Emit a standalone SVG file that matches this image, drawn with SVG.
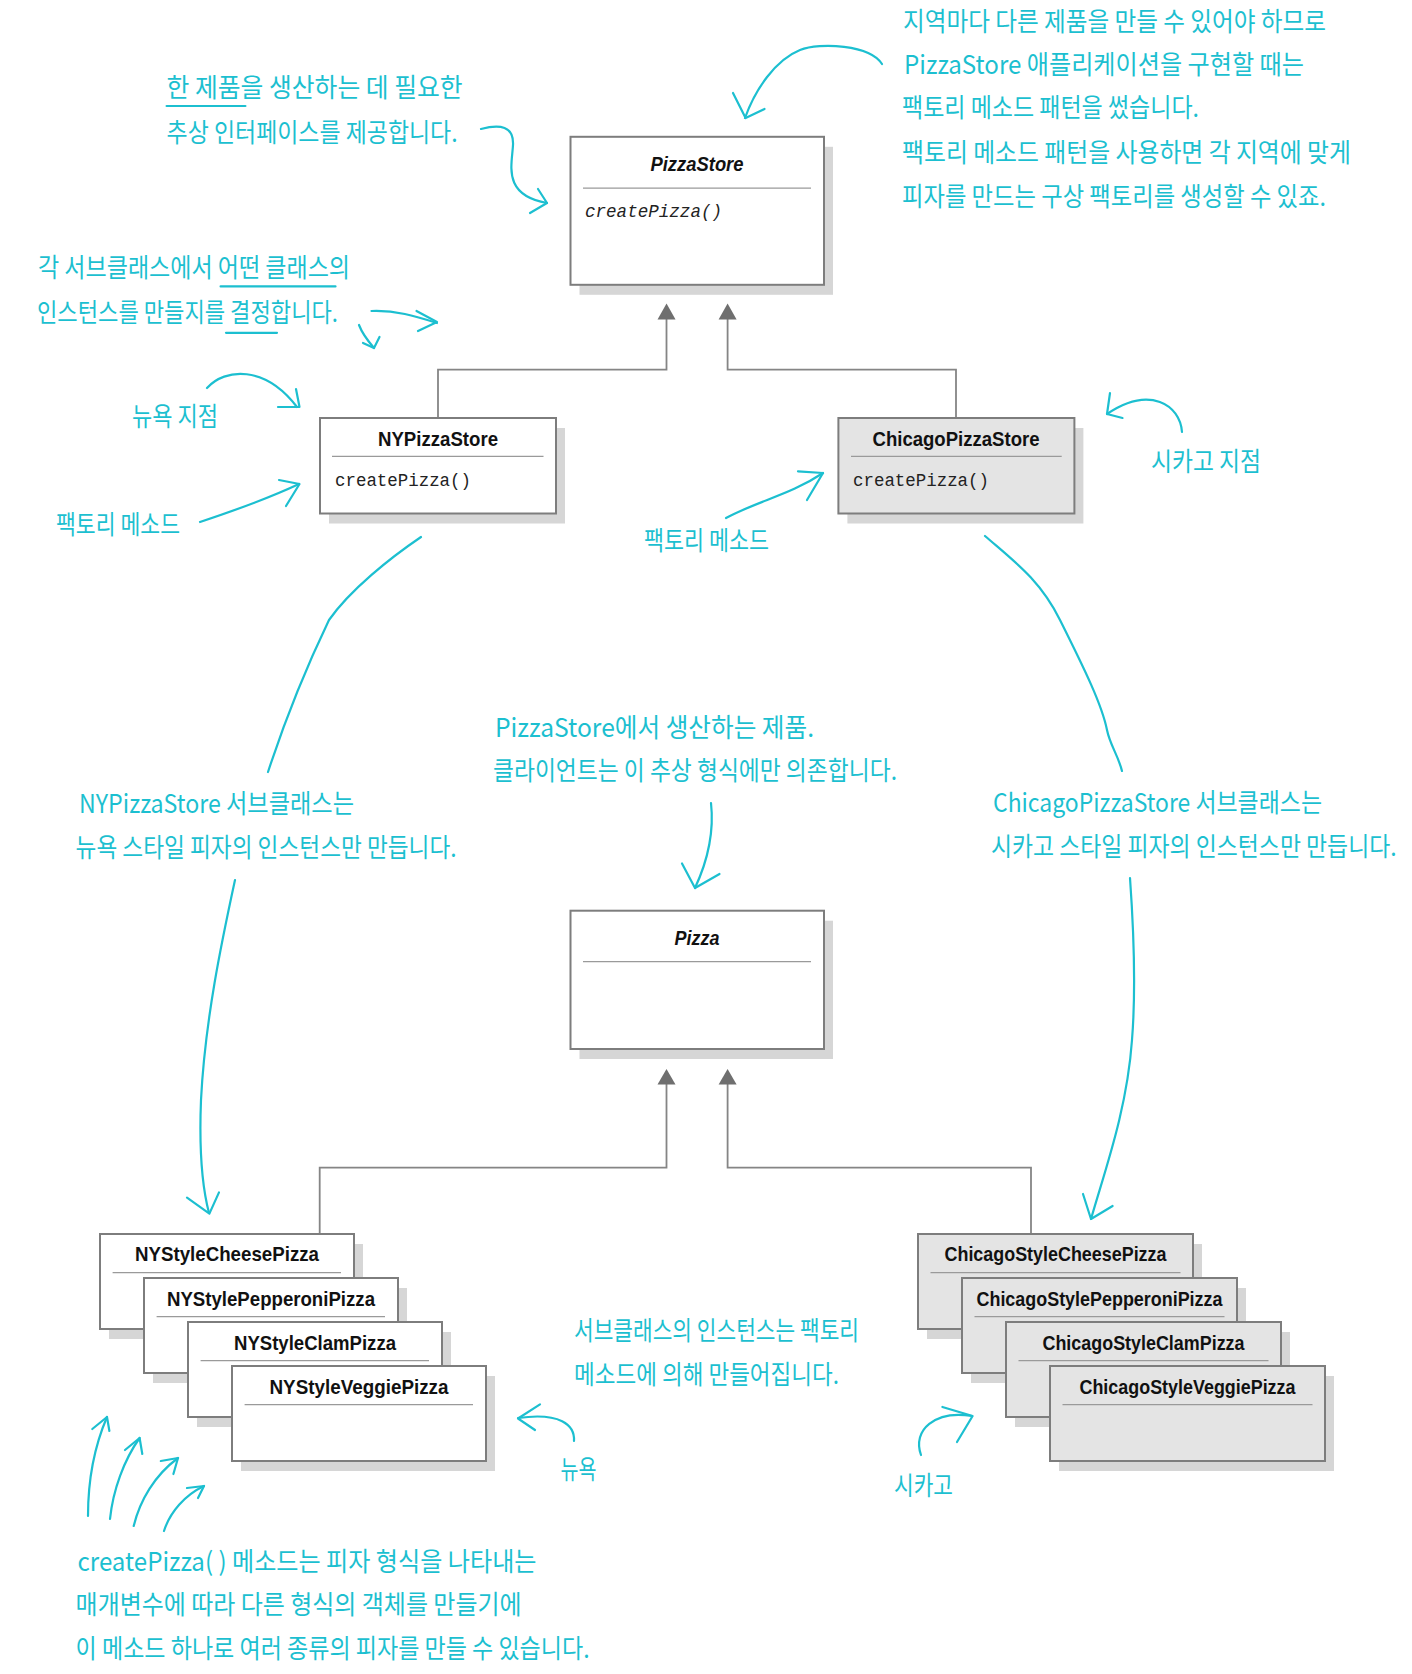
<svg xmlns="http://www.w3.org/2000/svg" width="1412" height="1674" viewBox="0 0 1412 1674">
<defs>
<style>
.note{font-family:"Noto Sans CJK KR","Noto Sans",sans-serif;font-size:26px;fill:#1cbfd0;}
.hand{fill:none;stroke:#1cbfd0;stroke-width:2.2;stroke-linecap:round;stroke-linejoin:round;}
.box{fill:#ffffff;stroke:#7d7d7d;stroke-width:2;}
.gbox{fill:#e4e4e4;stroke:#7d7d7d;stroke-width:2;}
.shadow{fill:#d6d6d6;}
.div{stroke:#9a9a9a;stroke-width:1.2;}
.title{font-family:"Liberation Sans",Arial,sans-serif;font-weight:bold;font-size:21px;fill:#111;text-anchor:middle;}
.ititle{font-family:"Liberation Sans",Arial,sans-serif;font-weight:bold;font-style:italic;font-size:21px;fill:#111;text-anchor:middle;}
.meth{font-family:"Liberation Mono","DejaVu Sans Mono",monospace;font-size:17.5px;fill:#222;}
.imeth{font-family:"Liberation Mono","DejaVu Sans Mono",monospace;font-style:italic;font-size:17.5px;fill:#222;}
.conn{fill:none;stroke:#858585;stroke-width:1.8;}
.tri{fill:#6f6f6f;}
</style>
</defs>
<rect width="1412" height="1674" fill="#ffffff"/>

<!-- connectors (UML inheritance) -->
<g id="connectors">
<polyline class="conn" points="438,418 438,369.6 666.5,369.6 666.5,318"/>
<polygon class="tri" points="666.5,303.5 657.5,319.5 675.5,319.5"/>
<polyline class="conn" points="956,418 956,369.6 727.6,369.6 727.6,318"/>
<polygon class="tri" points="727.6,303.5 718.6,319.5 736.6,319.5"/>
<polyline class="conn" points="319.7,1234 319.7,1167.7 666.5,1167.7 666.5,1083"/>
<polygon class="tri" points="666.5,1069 657.5,1084.5 675.5,1084.5"/>
<polyline class="conn" points="1031,1234 1031,1167.7 727.6,1167.7 727.6,1083"/>
<polygon class="tri" points="727.6,1069 718.6,1084.5 736.6,1084.5"/>
</g>

<!-- PizzaStore -->
<g id="PizzaStore">
<rect class="shadow" x="579.5" y="146.8" width="253.5" height="148"/>
<rect class="box" x="570.5" y="136.8" width="253.5" height="148"/>
<text class="ititle" x="697" y="171" textLength="93" lengthAdjust="spacingAndGlyphs">PizzaStore</text>
<line class="div" x1="583" y1="188.2" x2="811" y2="188.2"/>
<text class="imeth" x="585" y="217" textLength="137" lengthAdjust="spacingAndGlyphs">createPizza()</text>
</g>

<!-- NYPizzaStore -->
<g id="NYPizzaStore">
<rect class="shadow" x="329" y="428" width="236" height="95.5"/>
<rect class="box" x="320" y="418" width="236" height="95.5"/>
<text class="title" x="438" y="445.7" textLength="120" lengthAdjust="spacingAndGlyphs">NYPizzaStore</text>
<line class="div" x1="332" y1="456.4" x2="543.5" y2="456.4"/>
<text class="meth" x="335" y="486.4" textLength="136" lengthAdjust="spacingAndGlyphs">createPizza()</text>
</g>

<!-- ChicagoPizzaStore -->
<g id="ChicagoPizzaStore">
<rect class="shadow" x="847.4" y="428" width="236" height="95.5"/>
<rect class="gbox" x="838.4" y="418" width="236" height="95.5"/>
<text class="title" x="956" y="445.7" textLength="167" lengthAdjust="spacingAndGlyphs">ChicagoPizzaStore</text>
<line class="div" x1="851" y1="456.4" x2="1061.7" y2="456.4"/>
<text class="meth" x="853" y="486.4" textLength="136" lengthAdjust="spacingAndGlyphs">createPizza()</text>
</g>

<!-- Pizza -->
<g id="Pizza">
<rect class="shadow" x="579.5" y="920.7" width="253.5" height="138.3"/>
<rect class="box" x="570.5" y="910.7" width="253.5" height="138.3"/>
<text class="ititle" x="697" y="945" textLength="45" lengthAdjust="spacingAndGlyphs">Pizza</text>
<line class="div" x1="583" y1="961.7" x2="811" y2="961.7"/>
</g>

<!-- NY pizzas -->
<g id="NYStyleCheesePizza">
<rect class="shadow" x="109" y="1244" width="254" height="95"/>
<rect class="box" x="100" y="1234" width="254" height="95"/>
<text class="title" x="227" y="1261.3" textLength="184" lengthAdjust="spacingAndGlyphs">NYStyleCheesePizza</text>
<line class="div" x1="112.6" y1="1272.6" x2="341" y2="1272.6"/>
</g>
<g id="NYStylePepperoniPizza">
<rect class="shadow" x="153" y="1288" width="254" height="95"/>
<rect class="box" x="144" y="1278" width="254" height="95"/>
<text class="title" x="271" y="1305.5" textLength="208" lengthAdjust="spacingAndGlyphs">NYStylePepperoniPizza</text>
<line class="div" x1="156.6" y1="1316.6" x2="385" y2="1316.6"/>
</g>
<g id="NYStyleClamPizza">
<rect class="shadow" x="197" y="1332" width="254" height="95"/>
<rect class="box" x="188" y="1322" width="254" height="95"/>
<text class="title" x="315" y="1349.6" textLength="162" lengthAdjust="spacingAndGlyphs">NYStyleClamPizza</text>
<line class="div" x1="200.6" y1="1360.6" x2="429" y2="1360.6"/>
</g>
<g id="NYStyleVeggiePizza">
<rect class="shadow" x="241" y="1376" width="254" height="95"/>
<rect class="box" x="232" y="1366" width="254" height="95"/>
<text class="title" x="359" y="1393.8" textLength="179" lengthAdjust="spacingAndGlyphs">NYStyleVeggiePizza</text>
<line class="div" x1="244.6" y1="1404.6" x2="473" y2="1404.6"/>
</g>

<!-- Chicago pizzas -->
<g id="ChicagoStyleCheesePizza">
<rect class="shadow" x="927" y="1244" width="275" height="95"/>
<rect class="gbox" x="918" y="1234" width="275" height="95"/>
<text class="title" x="1055.5" y="1261.3" textLength="222" lengthAdjust="spacingAndGlyphs">ChicagoStyleCheesePizza</text>
<line class="div" x1="930.5" y1="1272.6" x2="1180.5" y2="1272.6"/>
</g>
<g id="ChicagoStylePepperoniPizza">
<rect class="shadow" x="971" y="1288" width="275" height="95"/>
<rect class="gbox" x="962" y="1278" width="275" height="95"/>
<text class="title" x="1099.5" y="1305.5" textLength="246" lengthAdjust="spacingAndGlyphs">ChicagoStylePepperoniPizza</text>
<line class="div" x1="974.5" y1="1316.6" x2="1224.5" y2="1316.6"/>
</g>
<g id="ChicagoStyleClamPizza">
<rect class="shadow" x="1015" y="1332" width="275" height="95"/>
<rect class="gbox" x="1006" y="1322" width="275" height="95"/>
<text class="title" x="1143.5" y="1349.6" textLength="202" lengthAdjust="spacingAndGlyphs">ChicagoStyleClamPizza</text>
<line class="div" x1="1018.5" y1="1360.6" x2="1268.5" y2="1360.6"/>
</g>
<g id="ChicagoStyleVeggiePizza">
<rect class="shadow" x="1059" y="1376" width="275" height="95"/>
<rect class="gbox" x="1050" y="1366" width="275" height="95"/>
<text class="title" x="1187.5" y="1393.8" textLength="216" lengthAdjust="spacingAndGlyphs">ChicagoStyleVeggiePizza</text>
<line class="div" x1="1062.5" y1="1404.6" x2="1312.5" y2="1404.6"/>
</g>

<!-- annotation texts -->
<g id="notes">
<text class="note" x="166.6" y="97" textLength="296" lengthAdjust="spacingAndGlyphs">한 제품을 생산하는 데 필요한</text>
<text class="note" x="166.6" y="142" textLength="291" lengthAdjust="spacingAndGlyphs">추상 인터페이스를 제공합니다.</text>
<text class="note" x="38" y="277" textLength="312" lengthAdjust="spacingAndGlyphs">각 서브클래스에서 어떤 클래스의</text>
<text class="note" x="37" y="322" textLength="301" lengthAdjust="spacingAndGlyphs">인스턴스를 만들지를 결정합니다.</text>
<text class="note" x="132" y="426" textLength="86" lengthAdjust="spacingAndGlyphs">뉴욕 지점</text>
<text class="note" x="56" y="534" textLength="124" lengthAdjust="spacingAndGlyphs">팩토리 메소드</text>
<text class="note" x="903" y="31" textLength="423" lengthAdjust="spacingAndGlyphs">지역마다 다른 제품을 만들 수 있어야 하므로</text>
<text class="note" x="904" y="74" textLength="400" lengthAdjust="spacingAndGlyphs">PizzaStore 애플리케이션을 구현할 때는</text>
<text class="note" x="902" y="117" textLength="297" lengthAdjust="spacingAndGlyphs">팩토리 메소드 패턴을 썼습니다.</text>
<text class="note" x="902" y="162" textLength="449" lengthAdjust="spacingAndGlyphs">팩토리 메소드 패턴을 사용하면 각 지역에 맞게</text>
<text class="note" x="902" y="206" textLength="424" lengthAdjust="spacingAndGlyphs">피자를 만드는 구상 팩토리를 생성할 수 있죠.</text>
<text class="note" x="1151" y="471" textLength="110" lengthAdjust="spacingAndGlyphs">시카고 지점</text>
<text class="note" x="644" y="550" textLength="125" lengthAdjust="spacingAndGlyphs">팩토리 메소드</text>
<text class="note" x="79" y="813" textLength="275" lengthAdjust="spacingAndGlyphs">NYPizzaStore 서브클래스는</text>
<text class="note" x="75.6" y="857" textLength="381" lengthAdjust="spacingAndGlyphs">뉴욕 스타일 피자의 인스턴스만 만듭니다.</text>
<text class="note" x="495" y="737" textLength="319" lengthAdjust="spacingAndGlyphs">PizzaStore에서 생산하는 제품.</text>
<text class="note" x="493" y="780" textLength="404" lengthAdjust="spacingAndGlyphs">클라이언트는 이 추상 형식에만 의존합니다.</text>
<text class="note" x="993" y="812" textLength="329" lengthAdjust="spacingAndGlyphs">ChicagoPizzaStore 서브클래스는</text>
<text class="note" transform="translate(991,856) scale(0.8,1)" x="0" y="0" textLength="507" lengthAdjust="spacingAndGlyphs">시카고 스타일 피자의 인스턴스만 만듭니다.</text>
<text class="note" x="574" y="1340" textLength="285" lengthAdjust="spacingAndGlyphs">서브클래스의 인스턴스는 팩토리</text>
<text class="note" x="574" y="1384" textLength="265" lengthAdjust="spacingAndGlyphs">메소드에 의해 만들어집니다.</text>
<text class="note" x="560.6" y="1479" textLength="36" lengthAdjust="spacingAndGlyphs">뉴욕</text>
<text class="note" x="894" y="1495" textLength="59" lengthAdjust="spacingAndGlyphs">시카고</text>
<text class="note" x="77.5" y="1571" textLength="459" lengthAdjust="spacingAndGlyphs">createPizza( ) 메소드는 피자 형식을 나타내는</text>
<text class="note" x="75.6" y="1614" textLength="446" lengthAdjust="spacingAndGlyphs">매개변수에 따라 다른 형식의 객체를 만들기에</text>
<text class="note" x="75.6" y="1658" textLength="514" lengthAdjust="spacingAndGlyphs">이 메소드 하나로 여러 종류의 피자를 만들 수 있습니다.</text>
</g>

<!-- hand-drawn annotation arrows and underlines -->
<g id="hand-arrows">
<line class="hand" x1="166.6" y1="106" x2="245.4" y2="106"/>
<line class="hand" x1="220.6" y1="286.4" x2="335.5" y2="286.4"/>
<line class="hand" x1="226" y1="332.8" x2="277" y2="332.8"/>
<path class="hand" d="M481 129 C500 124,514 126,513 145 C512 165,502 195,547 203"/>
<path class="hand" d="M538 189 L547 203 L530 213"/>
<path class="hand" d="M371.5 311 C395 310,415 316,437 323"/>
<path class="hand" d="M416.5 311 L437 322 L418 331"/>
<path class="hand" d="M359 325 C362 333,368 341,374 348"/>
<path class="hand" d="M379.5 337 L374 348 L363 343"/>
<path class="hand" d="M207 388 C225 368,265 365,297 407"/>
<path class="hand" d="M296 389 L299.5 407 L278 407"/>
<path class="hand" d="M200 522 C230 512,265 500,299 484"/>
<path class="hand" d="M279 480 L299.5 484 L286 506"/>
<path class="hand" d="M882 64 C870 45,820 42,800 50 C775 60,755 90,745 118"/>
<path class="hand" d="M733 93 L745.6 118 L764.5 109"/>
<path class="hand" d="M1182 432 C1180 405,1150 385,1107 414"/>
<path class="hand" d="M1110 393 L1107 414 L1122.5 418"/>
<path class="hand" d="M726 518 C760 500,790 495,823 473"/>
<path class="hand" d="M798 471.4 L823 473 L807 500"/>
<path class="hand" d="M421 537 C390 558,350 590,329 620 C305 670,285 720,268 772"/>
<path class="hand" d="M235 880 C222 940,205 1020,201 1100 C199 1150,203 1190,209 1213"/>
<path class="hand" d="M187 1197.7 L209.4 1213.6 L219 1192.4"/>
<path class="hand" d="M711 803 C714 830,708 860,695 888"/>
<path class="hand" d="M682 863.5 L695 888 L719.5 874"/>
<path class="hand" d="M985 536 C1015 562,1040 580,1060 620 C1085 670,1102 705,1107 730 C1110 745,1118 755,1122 771"/>
<path class="hand" d="M1130 878 C1133 920,1136 990,1132 1040 C1127 1110,1105 1170,1091 1219"/>
<path class="hand" d="M1083 1194 L1091 1219 L1112.6 1206"/>
<path class="hand" d="M574 1441 C575 1425,560 1412,518 1418"/>
<path class="hand" d="M540 1404.4 L518 1418.5 L535 1430"/>
<path class="hand" d="M921 1455 C912 1430,935 1410,972 1416"/>
<path class="hand" d="M942.4 1407 L972.6 1416 L957 1442"/>
<path class="hand" d="M88 1516 C88 1480,95 1445,107 1417"/>
<path class="hand" d="M92.3 1429 L107 1417 L109.4 1431"/>
<path class="hand" d="M110 1519 C113 1490,124 1460,139.6 1438"/>
<path class="hand" d="M125 1450 L139.6 1438 L142.3 1454"/>
<path class="hand" d="M133.7 1526 C140 1500,155 1475,178 1458"/>
<path class="hand" d="M160.8 1461 L178 1458 L173.4 1474"/>
<path class="hand" d="M164 1531 C170 1512,185 1495,204 1486"/>
<path class="hand" d="M187 1488 L204 1486 L198 1498"/>
</g>
</svg>
